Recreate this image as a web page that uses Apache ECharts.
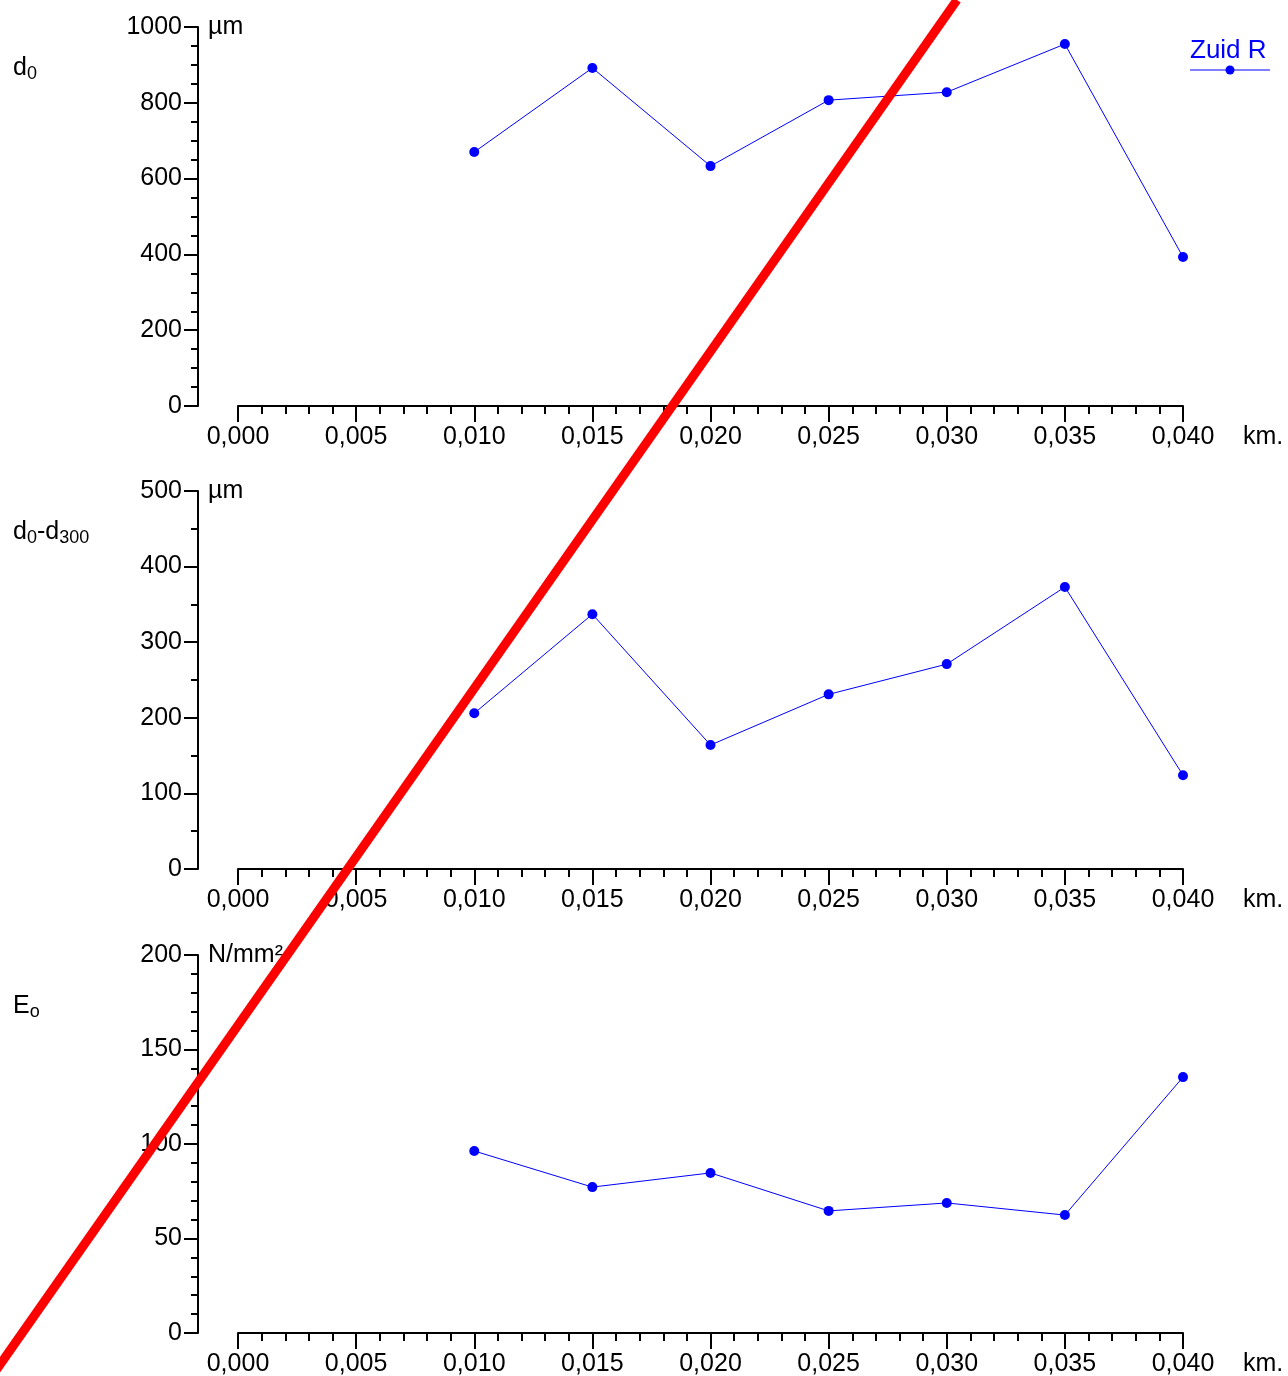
<!DOCTYPE html>
<html>
<head>
<meta charset="utf-8">
<script src="https://cdn.jsdelivr.net/npm/echarts@6/dist/echarts.min.js"></script>
<style>html,body{margin:0;padding:0;background:#fff}#c{width:1288px;height:1376px}</style>
</head>
<body>
<div id="c"></div>
<script>
var xValues = [0.010, 0.015, 0.020, 0.025, 0.030, 0.035, 0.040];
var d0 = [670, 892, 633, 807, 828, 955, 393];
var d0d300 = [206, 337, 164, 231, 271, 373, 124];
var eo = [96.3, 77.2, 84.7, 64.6, 68.8, 62.4, 135.4];
var seriesName = 'Zuid R';
var yUnits = ['µm', 'µm', 'N/mm²'];
var yMax = [1000, 500, 200];
var yInterval = [200, 100, 50];
var yMinorSplit = [4, 2, 5];
var xUnit = 'km.';

var FONT = 'Liberation Sans, Arial, sans-serif';
var FS = 25;
var BLUE = '#0000ff';
var tops = [27, 491, 955];
var H = 379;

function pairs(vals){ return xValues.map(function(x,i){ return [x, vals[i]]; }); }
var allData = [d0, d0d300, eo];

var grids = [], xAxes = [], yAxes = [], series = [];
for (var i = 0; i < 3; i++) {
  grids.push({left: 238, right: 105, top: tops[i], height: H - (i>0?1:0), containLabel: false, outerBoundsMode: 'none'});
  xAxes.push({
    type: 'value', gridIndex: i, min: 0, max: 0.040, interval: 0.005,
    name: xUnit, nameLocation: 'end', nameGap: 60,
    nameTextStyle: {fontFamily: FONT, fontSize: FS, color: '#000', align: 'left', verticalAlign: 'top', lineHeight: 62},
    axisLine: {show: true, onZero: false, lineStyle: {color: '#000', width: 2}},
    axisTick: {show: true, length: 16, lineStyle: {color: '#000', width: 2}},
    minorTick: {show: true, splitNumber: 5, length: 8, lineStyle: {color: '#000', width: 2}},
    splitLine: {show: false}, minorSplitLine: {show: false},
    axisLabel: {fontFamily: FONT, fontSize: FS, color: '#000', margin: 19,
      formatter: function(v){ return v.toFixed(3).replace('.', ','); }}
  });
  yAxes.push({
    type: 'value', gridIndex: i, min: 0, max: yMax[i], interval: yInterval[i], offset: 40,
    name: yUnits[i], nameLocation: 'end', nameGap: 0,
    nameTextStyle: {fontFamily: FONT, fontSize: FS, color: '#000', align: 'left', verticalAlign: 'middle', padding: [0, 0, 0, 10]},
    axisLine: {show: true, onZero: false, lineStyle: {color: '#000', width: 2}},
    axisTick: {show: true, length: 14, lineStyle: {color: '#000', width: 2}},
    minorTick: {show: true, splitNumber: yMinorSplit[i], length: 7, lineStyle: {color: '#000', width: 2}},
    splitLine: {show: false}, minorSplitLine: {show: false},
    axisLabel: {fontFamily: FONT, fontSize: FS, color: '#000', margin: 16,
      formatter: function(v){ return String(v); }}
  });
  series.push({
    name: seriesName, type: 'line', xAxisIndex: i, yAxisIndex: i,
    data: pairs(allData[i]), symbol: 'circle', symbolSize: 10,
    itemStyle: {color: BLUE}, lineStyle: {color: BLUE, width: 1}, animation: false
  });
}

var titleRich = {
  b: {fontFamily: FONT, fontSize: FS, fontWeight: 'normal', color: '#000'},
  s: {fontFamily: FONT, fontSize: 18, fontWeight: 'normal', color: '#000', padding: [12, 0, 0, 0]}
};
var titles = [
  {text: '{b|d}{s|0}', left: 8, top: 48},
  {text: '{b|d}{s|0}{b|-d}{s|300}', left: 8, top: 512},
  {text: '{b|E}{s|o}', left: 8, top: 986}
].map(function(t){ t.textStyle = {fontWeight: 'normal', rich: titleRich}; return t; });

var chart = echarts.init(document.getElementById('c'), null, {renderer: 'canvas'});
chart.setOption({
  animation: false,
  backgroundColor: '#fff',
  title: titles,
  grid: grids, xAxis: xAxes, yAxis: yAxes, series: series,
  graphic: [
    {type: 'text', left: 1190, top: 38, style: {text: seriesName, fontFamily: FONT, fontSize: 26, fill: BLUE}},
    {type: 'line', shape: {x1: 1190, y1: 70, x2: 1270, y2: 70}, style: {stroke: BLUE, lineWidth: 1}},
    {type: 'circle', shape: {cx: 1230, cy: 70, r: 4.5}, style: {fill: BLUE}},
    {type: 'line', z: 100, shape: {x1: -8, y1: 1376, x2: 957, y2: 0}, style: {stroke: '#ff0000', lineWidth: 9}}
  ]
});
</script>
</body>
</html>
